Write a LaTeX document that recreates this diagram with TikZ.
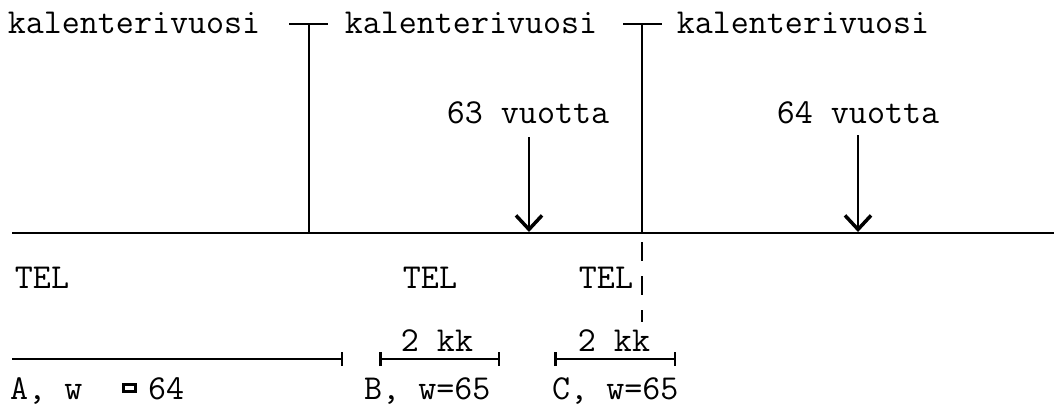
\documentclass[tikz,border=0pt]{standalone}
\usepackage{fontspec}
\usetikzlibrary{arrows.meta}
\begin{document}
\begin{tikzpicture}[x=1pt,y=-1pt,
  txt/.style={font=\fontsize{35}{40}\selectfont\ttfamily, inner sep=0pt, anchor=base},
  txtw/.style={txt, anchor=base west},
  ln/.style={line width=2pt},
  arr/.style={line width=2pt, -{Straight Barb[length=14pt,width=26pt,line width=3.5pt]}},
  seg/.style={line width=2pt},
  tick/.tip={Bar[width=14pt,line width=2.5pt]},
  dsh/.style={line width=2pt, dash pattern=on 19pt off 15pt}]
\useasboundingbox (0,0) rectangle (1054,410);
% top labels
\node[txt] (k1) at (134,33) {kalenterivuosi};
\node[txt] (k2) at (471,33) {kalenterivuosi};
\node[txt] (k3) at (803,33) {kalenterivuosi};
% T marks
\coordinate (t1l) at (289,24); \coordinate (t1r) at (328,24);
\coordinate (t1) at (309,24);  \coordinate (b1) at (309,233);
\coordinate (t2l) at (623,24); \coordinate (t2r) at (662,24);
\coordinate (t2) at (642,24);  \coordinate (b2) at (642,233);
\coordinate (d2s) at (642,242); \coordinate (d2e) at (642,322);
\draw[ln] (t1l) -- (t1r);
\draw[ln] (t1) -- (b1);
\draw[ln] (t2l) -- (t2r);
\draw[ln] (t2) -- (b2);
\draw[dsh] (d2s) -- (d2e);
% main line
\coordinate (L) at (12,233); \coordinate (R) at (1054,233);
\draw[ln] (L) -- (R);
% age arrows
\node[txt] (v63) at (528,123) {63 vuotta};
\node[txt] (v64) at (858,123) {64 vuotta};
\coordinate (a63s) at (529,137); \coordinate (a63e) at (529,232);
\coordinate (a64s) at (858,135); \coordinate (a64e) at (858,232);
\draw[arr] (a63s) -- (a63e);
\draw[arr] (a64s) -- (a64e);
% TEL labels
\node[txt] (tel1) at (42,288) {TEL};
\node[txt] (tel2) at (430,288) {TEL};
\node[txt] (tel3) at (606,288) {TEL};
% segments
\coordinate (As) at (12,359); \coordinate (Ae) at (343,359);
\coordinate (Bs) at (379,359); \coordinate (Be) at (500,359);
\coordinate (Cs) at (554,359); \coordinate (Ce) at (676,359);
\draw[seg, -tick] (As) -- (Ae);
\draw[seg, tick-tick] (Bs) -- (Be);
\draw[seg, tick-tick] (Cs) -- (Ce);
\node[txt] (kkB) at (437,351) {2 kk};
\node[txt] (kkC) at (614,351) {2 kk};
% bottom labels
\node[txtw] (labA) at (10,399) {A, w};
\node[draw, line width=3pt, minimum width=12pt, minimum height=7pt, inner sep=0pt] (sym) at (129,388) {};
\node[txtw] (labA2) at (148,399) {64};
\node[txtw] (labB) at (364,399) {B, w=65};
\node[txtw] (labC) at (552,399) {C, w=65};
\end{tikzpicture}
\end{document}
